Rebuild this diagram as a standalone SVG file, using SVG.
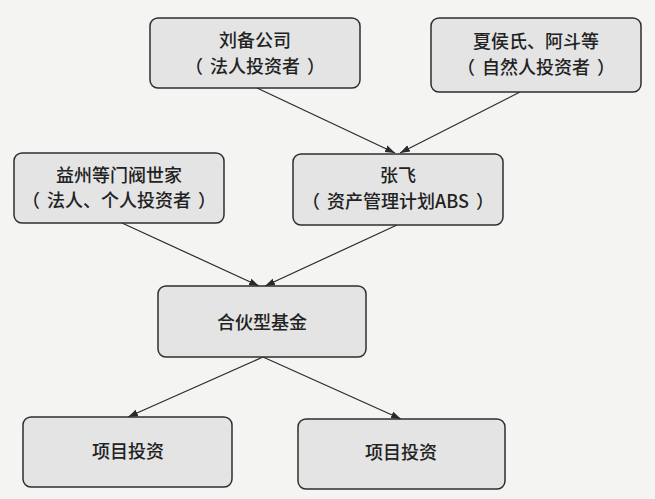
<svg xmlns="http://www.w3.org/2000/svg" width="655" height="499" viewBox="0 0 655 499">
<style>
.box{fill:#e4e4e4;stroke:#2e2e2e;stroke-width:1.5}
.t{font-family:"Noto Sans CJK SC","Liberation Sans",sans-serif;font-size:18px;font-weight:500;fill:#222;text-anchor:middle}
.c{stroke:#2a2a2a;stroke-width:1.2;fill:none;marker-end:url(#ah)}
</style>
<defs>
<marker id="ah" viewBox="0 0 10 10" refX="10" refY="5" markerWidth="10" markerHeight="10" markerUnits="userSpaceOnUse" orient="auto">
<path d="M0,1.5 L10,5 L0,8.5 z" fill="#2a2a2a"/>
</marker>
</defs>
<rect width="655" height="499" fill="#f4f4f3"/>
<g id="connectors">
<line class="c" x1="257" y1="88" x2="395" y2="153"/>
<line class="c" x1="520" y1="92" x2="400" y2="153"/>
<line class="c" x1="122" y1="223" x2="259" y2="286"/>
<line class="c" x1="397" y1="225" x2="265" y2="286"/>
<line class="c" x1="263" y1="357" x2="128" y2="417"/>
<line class="c" x1="263" y1="357" x2="401" y2="419"/>
</g>
<g id="n1"><rect class="box" x="150" y="18" width="210" height="70" rx="8"/><text class="t" x="255" y="47">刘备公司</text><text class="t" x="255" y="73">（<tspan dx="7">法人投资者</tspan><tspan dx="7">）</tspan></text></g>
<g id="n2"><rect class="box" x="431" y="18" width="210" height="74" rx="8"/><text class="t" x="536" y="48">夏侯氏、阿斗等</text><text class="t" x="536" y="74">（<tspan dx="7">自然人投资者</tspan><tspan dx="7">）</tspan></text></g>
<g id="n3"><rect class="box" x="14" y="153" width="210" height="70" rx="8"/><text class="t" x="119" y="182">益州等门阀世家</text><text class="t" x="119" y="207">（<tspan dx="7">法人、个人投资者</tspan><tspan dx="7">）</tspan></text></g>
<g id="n4"><rect class="box" x="293" y="154" width="210" height="71" rx="8"/><text class="t" x="398" y="182">张飞</text><text class="t" x="398" y="208">（<tspan dx="7">资产管理计划ABS</tspan><tspan dx="7">）</tspan></text></g>
<g id="n5"><rect class="box" x="158" y="286" width="208" height="71" rx="8"/><text class="t" x="262" y="329">合伙型基金</text></g>
<g id="n6"><rect class="box" x="23" y="417" width="209" height="70" rx="8"/><text class="t" x="128" y="458">项目投资</text></g>
<g id="n7"><rect class="box" x="298" y="419" width="207" height="70" rx="8"/><text class="t" x="401" y="459">项目投资</text></g>
</svg>
